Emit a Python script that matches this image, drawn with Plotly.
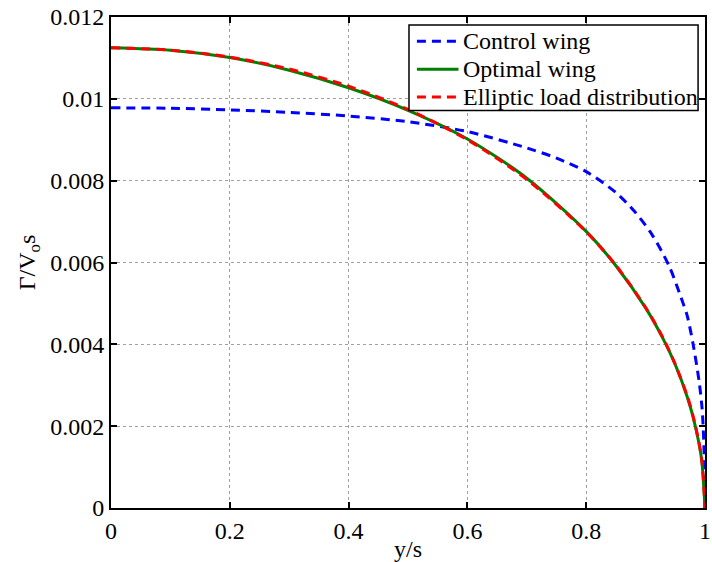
import plotly.graph_objects as go

# Control wing
x_control = [0, 0.1, 0.2, 0.3, 0.4, 0.5, 0.6, 0.7, 0.75, 0.8, 0.85, 0.88, 0.91, 0.94, 0.96, 0.97,
             0.98, 0.99, 0.995, 0.998, 1.0]
y_control = [0.00978, 0.00977, 0.00973, 0.00967, 0.00958, 0.00944, 0.00920, 0.00880, 0.00855, 0.00822,
             0.00771, 0.00727, 0.00670, 0.00590, 0.00513, 0.00470, 0.00400, 0.00310, 0.00245, 0.00160, 0.0]

# Optimal wing
x_opt = [0, 0.1, 0.2, 0.3, 0.4, 0.5, 0.6, 0.7, 0.8, 0.85, 0.9, 0.93, 0.95, 0.97, 0.98, 0.99, 0.995, 1.0]
y_opt = [0.01125, 0.01119, 0.01101, 0.01070, 0.01027, 0.00972, 0.00902, 0.00806, 0.00676, 0.00592,
         0.00489, 0.00412, 0.00350, 0.00272, 0.00222, 0.00157, 0.00110, 0.0]

# Elliptic load distribution
x_ell = [0, 0.1, 0.2, 0.3, 0.4, 0.5, 0.6, 0.7, 0.8, 0.85, 0.9, 0.93, 0.95, 0.97, 0.98, 0.99, 0.995, 1.0]
y_ell = [0.01125, 0.01119, 0.01102, 0.01073, 0.01031, 0.00974, 0.00900, 0.00803, 0.00675, 0.00593,
         0.00490, 0.00414, 0.00351, 0.00274, 0.00224, 0.00159, 0.00112, 0.0]

series_names = ["Control wing", "Optimal wing", "Elliptic load distribution"]
series_colors = ["#0000ff", "#008000", "#ff0000"]
series_dash = ["9px,6px", "solid", "9px,6px"]

x_ticks = [0, 0.2, 0.4, 0.6, 0.8, 1.0]
x_tick_labels = ["0", "0.2", "0.4", "0.6", "0.8", "1"]
y_ticks = [0, 0.002, 0.004, 0.006, 0.008, 0.010, 0.012]
y_tick_labels = ["0", "0.002", "0.004", "0.006", "0.008", "0.01", "0.012"]

FONT = "Liberation Serif, Times New Roman, serif"

fig = go.Figure()
for xs, ys, name, col, dash in zip([x_control, x_opt, x_ell], [y_control, y_opt, y_ell],
                                   series_names, series_colors, series_dash):
    fig.add_trace(go.Scatter(x=xs, y=ys, mode="lines", name=name, showlegend=False,
                             line=dict(color=col, width=3, dash=dash, shape="spline", smoothing=0.8)))

axis_common = dict(
    showline=True, linecolor="black", linewidth=2, mirror="ticks",
    ticks="inside", ticklen=6, tickcolor="black", tickwidth=1.5,
    showgrid=True, gridcolor="#a0a0a0", gridwidth=1, griddash="dot",
    zeroline=False, tickfont=dict(family=FONT, size=24, color="black"),
    ticklabeloverflow="allow",
)

fig.update_xaxes(range=[0, 1], tickvals=x_ticks, ticktext=x_tick_labels,
                 title=dict(text="y/s", font=dict(family=FONT, size=24, color="black"), standoff=0),
                 **axis_common)
fig.update_yaxes(range=[0, 0.012], tickvals=y_ticks, ticktext=y_tick_labels,
                 title=dict(text="Γ/V<sub>o</sub>s", font=dict(family=FONT, size=24, color="black"), standoff=8),
                 **axis_common)

# Legend drawn in paper coordinates (box, line samples and labels)
W, H = 712, 562
L, R, T, B = 111, 1, 17, 51
pw, ph = W - L - R, H - T - B
def px(xp):
    return (xp - L) / pw
def py(yp):
    return (H - B - yp) / ph

shapes = [dict(type="rect", xref="paper", yref="paper",
               x0=px(412), x1=px(704), y0=py(111), y1=py(25),
               fillcolor="white", line=dict(color="black", width=1.5), layer="above")]
annotations = []
row_y = [41.5, 69.5, 97.5]
for name, col, dash, ry in zip(series_names, series_colors, series_dash, row_y):
    shapes.append(dict(type="line", xref="paper", yref="paper",
                       x0=px(420), x1=px(462), y0=py(ry), y1=py(ry),
                       line=dict(color=col, width=3, dash=dash), layer="above"))
    annotations.append(dict(xref="paper", yref="paper", x=px(465), y=py(ry),
                            text=name, showarrow=False, xanchor="left", yanchor="middle",
                            font=dict(family=FONT, size=24, color="black")))

fig.update_layout(
    width=W, height=H,
    margin=dict(l=L, r=R, t=T, b=B),
    paper_bgcolor="white", plot_bgcolor="white",
    font=dict(family=FONT, size=24, color="black"),
    shapes=shapes, annotations=annotations,
    showlegend=False,
)

fig.write_html("out.html")
